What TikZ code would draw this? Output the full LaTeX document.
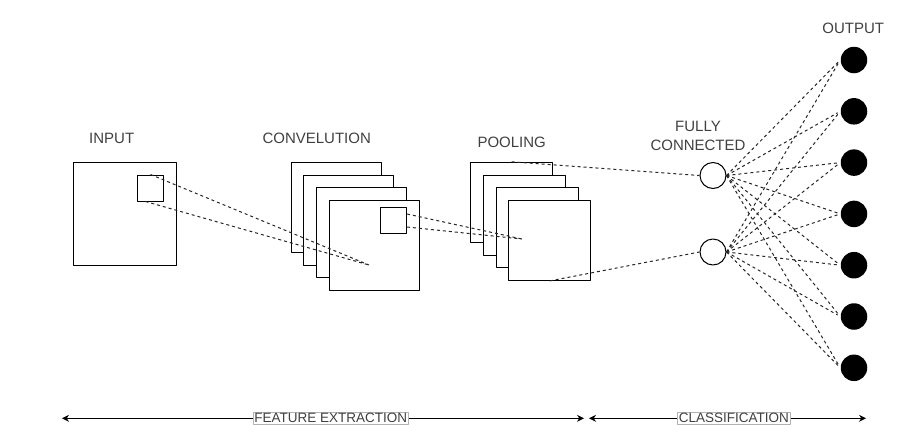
\documentclass[tikz,border=0pt]{standalone}
\usepackage{fontspec}
\setmainfont{Liberation Sans}
\usetikzlibrary{arrows.meta}

\begin{document}
\begin{tikzpicture}[x=1pt,y=-1pt,>={Stealth[length=7pt,width=7pt]}, font=\fontsize{15}{18.5}\selectfont, line join=round, line width=1pt,
	box/.style={draw,fill=white,inner sep=0pt},
	dsh/.style={dash pattern=on 3pt off 3pt, line width=1pt, draw=black!85},
	lbl/.style={text=black!75, inner sep=1pt},
	tag/.style={lbl, font=\fontsize{13.5}{16}\selectfont, draw=black!30, line width=0.6pt, fill=white, inner sep=1.5pt}]
	\useasboundingbox (0,0) rectangle (898,440);
	\def\d{12.7} % offset of the stacked maps
	% input
	\node[box,minimum size=103pt] (in) at (124.5,213.5) {};
	\node[box,minimum size=26pt] (insq) at (150.5,188) {};
	\node[lbl] (linput) at (111.7,138.3) {INPUT};
	% convolution
	\foreach \k in {0,...,3}
		\node[box,minimum size=90pt] (cv\k) at (336+\d*\k,207.3+\d*\k) {};
	\node[box,minimum size=26pt] (cvsq) at (393.5,220) {};
	\node[lbl] (lconv) at (316.7,138.3) {CONVELUTION};
	% pooling
	\foreach \k in {0,...,3}
		\node[box,minimum width=82pt,minimum height=80pt] (pl\k) at (511.7+\d*\k,202.3+\d*\k) {};
	\node[lbl] (lpool) at (511.7,142.7) {POOLING};
	% fully connected + output
	\node[box,circle,minimum size=26pt] (fc1) at (713,175.5) {};
	\node[box,circle,minimum size=26pt] (fc2) at (713,252) {};
	\node[lbl,align=center] (lfc) at (698,135.8) {FULLY\\CONNECTED};
	\foreach \i in {0,...,6}
		\node[circle,fill=black,minimum size=26.5pt,inner sep=0pt] (out\i) at (854,60+51.3*\i) {};
	\node[lbl] (lout) at (853.3,28.3) {OUTPUT};
	% receptive fields
	\coordinate (cin) at (369,265);
	\coordinate (cpool) at (522,239);
	\draw[dsh] (insq.north)--(cin) ([xshift=-5pt]insq.south)--(cin);
	\draw[dsh] ([yshift=6pt]cvsq.east)--(cpool) ([yshift=-7pt]cvsq.east)--(cpool);
	\draw[dsh] (pl0.north)--(fc1.west) (pl3.south)--(fc2.west);
	\foreach \f in {1,2}
		\foreach \i in {0,...,6}
			\draw[dsh,shorten >=3pt] (fc\f.east)--(out\i.west);
	% stages
	\coordinate (fa) at (62,418.3); \coordinate (fb) at (584,418.3);
	\coordinate (ca) at (589,418.3); \coordinate (cb) at (866,418.3);
	\draw[<->] (fa)--(fb) node[tag,pos=.515] (lfe) {FEATURE EXTRACTION};
	\draw[<->] (ca)--(cb) node[tag,pos=.523] (lcl) {CLASSIFICATION};
\end{tikzpicture}
\end{document}
